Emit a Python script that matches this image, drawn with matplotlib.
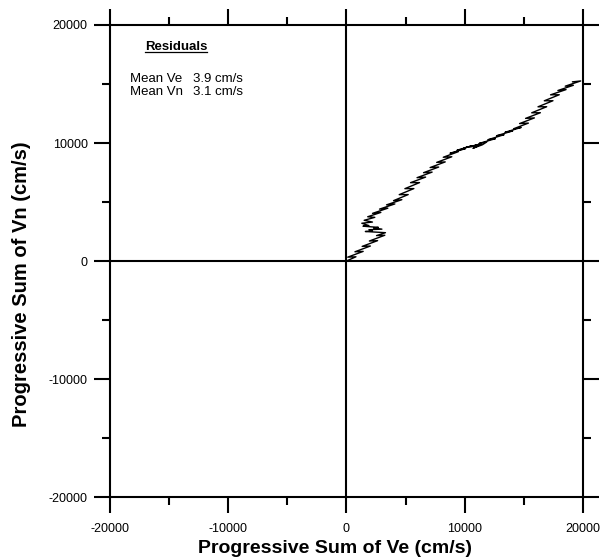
import matplotlib
matplotlib.use("Agg")
import matplotlib.pyplot as plt
from matplotlib.ticker import MultipleLocator

plt.rcParams['font.family'] = ['Liberation Sans', 'DejaVu Sans']
plt.rcParams['axes.unicode_minus'] = False

# progressive vector track (cm/s summed)
sum_ve = [0, 805, 110, 1415, 720, 2025, 1330, 2635, 1940, 3245, 2546,
          3300, 1600, 2200, 1900, 3000, 2300, 2700, 1400, 1900, 1300, 2200, 1500, 2400, 1800,
          2911, 2207, 3503, 2799, 4095, 3391, 4687, 3984,
          5224, 4464, 5704, 4944, 6184, 5422,
          6697, 5972, 7247, 6522,
          7800, 7078, 8356, 7634, 8912, 8190, 9468,
          8764, 10060, 9356, 10652,
          9934, 11216, 10498, 11400, 10700, 11500,
          11865, 11232, 12598,
          11965, 13332, 12698,
          14058, 13418, 14778, 14136,
          15390, 14644, 15898, 15152, 16405,
          15671, 16937, 16203, 17469, 16735, 18001, 17266,
          18576, 17886, 19196, 18506, 19816, 19127]
sum_vn = [0, 358, 326, 814, 782, 1270, 1238, 1726, 1694, 2182, 2154,
          2400, 2500, 2550, 2650, 2700, 2800, 2850, 2950, 3000, 3200, 3300, 3450, 3700, 3750,
          4117, 4037, 4477, 4397, 4837, 4757, 5197, 5115,
          5629, 5623, 6137, 6131, 6645, 6638,
          7110, 7062, 7534, 7484,
          7962, 7920, 8398, 8356, 8834, 8792, 9267,
          9134, 9521, 9388, 9774,
          9571, 9888, 9684, 9900, 9550, 9850,
          10085, 9966, 10367,
          10276, 10705, 10614,
          11022, 10910, 11318, 11206,
          11686, 11646, 12126, 12086, 12566,
          12560, 13074, 13068, 13582, 13576, 14090, 14083,
          14526, 14449, 14892, 14815, 15258, 15183]

mean_labels = ['Mean Ve', 'Mean Vn']
mean_values = [3.9, 3.1]

fig = plt.figure(figsize=(6.11, 5.58), dpi=100)
ax = fig.add_axes([0.18, 0.1093, 0.774, 0.8459])

ax.plot(sum_ve, sum_vn, color='black', lw=1.0)
ax.axhline(0, color='black', lw=1.5)
ax.axvline(0, color='black', lw=1.5)

ax.set_xlim(-20000, 20000)
ax.set_ylim(-20000, 20000)
for a in (ax.xaxis, ax.yaxis):
    a.set_major_locator(MultipleLocator(10000))
    a.set_minor_locator(MultipleLocator(5000))
for s in ax.spines.values():
    s.set_linewidth(1.5)
ax.tick_params(which='both', direction='out', top=True, right=True, width=1.5, labelsize=9)
ax.tick_params(which='major', length=11.5)
ax.tick_params(which='minor', length=6)
ax.tick_params(axis='y', pad=4.5)
ax.tick_params(axis='x', pad=7)

ax.set_xlabel('Progressive Sum of Ve (cm/s)', fontsize=14, fontweight='bold', va='center')
ax.set_ylabel('Progressive Sum of Vn (cm/s)', fontsize=14.5, fontweight='bold', va='center')
ax.xaxis.set_label_coords(0.476, -0.110)
ax.yaxis.set_label_coords(-0.188, 0.45)

# residuals box
ax.text(0.1395, 0.953, 'Residuals', transform=ax.transAxes, fontsize=9.5,
        fontweight='bold', ha='center', va='center')
ax.plot([0.074, 0.205], [0.942, 0.942], transform=ax.transAxes, color='black', lw=0.9)
for i, (lab, val) in enumerate(zip(mean_labels, mean_values)):
    yy = 0.886 - i * 0.029
    ax.text(0.042, yy, lab, transform=ax.transAxes, fontsize=9.5, va='center')
    ax.text(0.175, yy, f'{val} cm/s', transform=ax.transAxes, fontsize=9.5, va='center')

fig.savefig('out.png', dpi=100)
